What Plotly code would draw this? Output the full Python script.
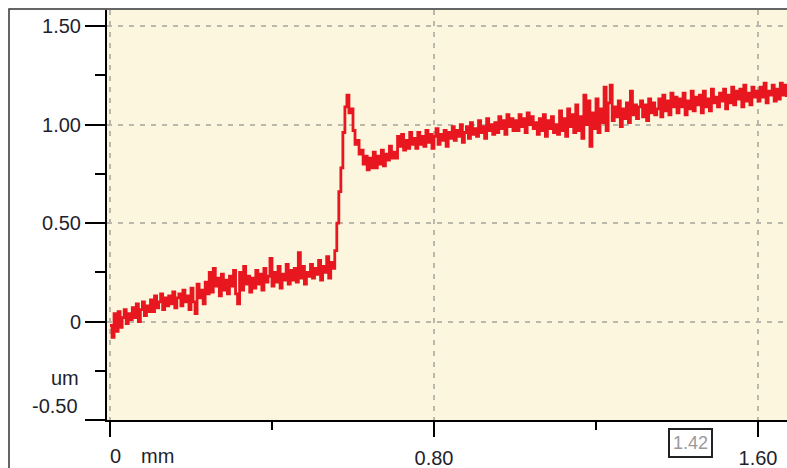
import plotly.graph_objects as go

# ---- data ----
x_start_mm = 0.0
x_step_mm = 0.005
height_um = [
    -0.02, -0.08, 0.04, -0.05, 0.05, -0.03, 0.02, 0.06, -0.01, 0.04,
    0.01, 0.07, 0.02, 0.09, 0.00, 0.06, 0.10, 0.03, 0.08, 0.05,
    0.11, 0.05, 0.13, 0.07, 0.10, 0.14, 0.06, 0.12, 0.08, 0.13,
    0.09, 0.15, 0.07, 0.12, 0.14, 0.08, 0.16, 0.10, 0.13, 0.06,
    0.17, 0.10, 0.04, 0.19, 0.12, 0.16, 0.09, 0.20, 0.14, 0.25,
    0.15, 0.27, 0.18, 0.22, 0.13, 0.24, 0.16, 0.21, 0.14, 0.23,
    0.18, 0.26, 0.14, 0.09, 0.25, 0.16, 0.28, 0.19, 0.23, 0.15,
    0.22, 0.17, 0.26, 0.19, 0.24, 0.16, 0.27, 0.20, 0.23, 0.32,
    0.18, 0.25, 0.20, 0.28, 0.17, 0.24, 0.21, 0.29, 0.19, 0.26,
    0.21, 0.27, 0.20, 0.35, 0.22, 0.28, 0.19, 0.25, 0.23, 0.29,
    0.22, 0.27, 0.24, 0.31, 0.21, 0.28, 0.25, 0.33, 0.22, 0.30,
    0.27, 0.36, 0.50, 0.66, 0.78, 0.96, 1.09, 1.15, 1.06, 1.08,
    0.97, 0.90, 0.92, 0.85, 0.87, 0.80, 0.84, 0.77, 0.83, 0.78,
    0.86, 0.78, 0.84, 0.80, 0.87, 0.79, 0.85, 0.82, 0.89, 0.83,
    0.86, 0.83, 0.94, 0.89, 0.95, 0.87, 0.92, 0.88, 0.96, 0.90,
    0.93, 0.88, 0.96, 0.90, 0.94, 0.89, 0.97, 0.91, 0.95, 0.88,
    0.94, 0.98, 0.90, 0.95, 0.92, 0.97, 0.89, 0.96, 0.93, 0.99,
    0.92, 0.97, 0.94, 1.00, 0.91, 0.96, 0.99, 0.93, 1.01, 0.95,
    0.98, 0.94, 1.02, 0.96, 0.99, 0.93, 1.03, 0.97, 1.00, 0.95,
    1.01, 0.96, 1.04, 0.98, 1.02, 0.95, 1.05, 0.99, 1.03, 0.97,
    1.02, 0.97, 1.05, 0.99, 1.03, 0.96, 1.06, 1.00, 1.04, 0.98,
    1.01, 0.95, 1.03, 0.97, 1.05, 0.94, 1.02, 0.98, 1.04, 0.96,
    1.00, 0.95, 1.07, 0.97, 1.03, 0.94, 1.08, 0.99, 1.05, 0.96,
    1.10, 0.97, 1.04, 0.93, 1.15, 1.00, 1.12, 0.89, 1.06, 0.98,
    1.13, 0.96, 1.08, 1.01, 1.19, 0.97, 1.11, 1.20, 1.02, 1.09,
    1.04, 1.12, 0.99, 1.08, 1.03, 1.11, 1.01, 1.17, 1.05, 1.10,
    1.03, 1.09, 1.12, 1.04, 1.10, 1.02, 1.13, 1.06, 1.11, 1.05,
    1.08, 1.13, 1.04, 1.15, 1.07, 1.12, 1.05, 1.16, 1.09, 1.14,
    1.06, 1.13, 1.09, 1.16, 1.05, 1.12, 1.08, 1.17, 1.07, 1.14,
    1.10, 1.15, 1.06, 1.17, 1.09, 1.13, 1.07, 1.18, 1.11, 1.14,
    1.09, 1.16, 1.12, 1.18, 1.08, 1.15, 1.11, 1.19, 1.10, 1.17,
    1.13, 1.18, 1.09, 1.20, 1.12, 1.16, 1.10, 1.19, 1.14, 1.17,
    1.12, 1.19, 1.14, 1.21, 1.11, 1.17, 1.15, 1.20, 1.12, 1.18,
    1.13, 1.21, 1.15, 1.20, 1.14,
]
position_mm = [round(x_start_mm + i * x_step_mm, 4) for i in range(len(height_um))]

x_tick_vals = [0, 0.8, 1.6]
x_tick_text = ["", "0.80", "1.60"]
x_minor_vals = [0.4, 1.2]
y_tick_vals = [-0.5, 0, 0.5, 1.0, 1.5]
y_tick_text = ["", "0", "0.50", "1.00", "1.50"]
y_minor_vals = [-0.25, 0.25, 0.75, 1.25]
cursor_label = "1.42"

# ---- figure ----
FONT = "Liberation Sans"
TXT = "#1f1f2e"
GRID = "#b9b8ab"
FS = 20

fig = go.Figure()
fig.add_trace(go.Scatter(
    x=position_mm, y=height_um, mode="lines",
    line=dict(color="#e8161f", width=2.8, shape="hv"),
    showlegend=False, hoverinfo="skip",
))

fig.update_layout(
    width=787, height=468,
    margin=dict(l=107, r=0, t=10, b=48, autoexpand=False),
    paper_bgcolor="white",
    plot_bgcolor="#fcf6df",
    font=dict(family=FONT, size=FS, color=TXT),
    showlegend=False,
)

fig.update_xaxes(
    range=[-0.0074, 1.6716], automargin=False,
    tickmode="array", tickvals=x_tick_vals, ticktext=x_tick_text,
    ticks="outside", ticklen=15, tickwidth=2, tickcolor="black",
    showline=True, linecolor="black", linewidth=2,
    showgrid=True, gridcolor=GRID, gridwidth=1.5, griddash="5px,6px",
    zeroline=False,
    minor=dict(tickmode="array", tickvals=x_minor_vals, ticks="outside",
               ticklen=8, tickwidth=2, tickcolor="black", showgrid=False),
    ticklabelstandoff=4,
    tickfont=dict(family=FONT, size=FS, color=TXT),
)
fig.update_yaxes(
    range=[-0.5, 1.582], automargin=False,
    tickmode="array", tickvals=y_tick_vals, ticktext=y_tick_text,
    ticks="outside", ticklen=20, tickwidth=2, tickcolor="black",
    showline=True, linecolor="black", linewidth=2,
    showgrid=True, gridcolor=GRID, gridwidth=1.5, griddash="5px,6px",
    zeroline=False,
    minor=dict(tickmode="array", tickvals=y_minor_vals, ticks="outside",
               ticklen=10, tickwidth=2, tickcolor="black", showgrid=False),
    tickfont=dict(family=FONT, size=FS, color=TXT),
)

def px2paper(px, py):
    return (px - 107) / 680.0, (420 - py) / 410.0

annots = []
ax, ay = px2paper(80, 406)
annots.append(dict(text="-0.50", x=ax, y=ay, xanchor="right", yanchor="middle"))
ax, ay = px2paper(65, 378)
annots.append(dict(text="um", x=ax, y=ay, xanchor="center", yanchor="middle"))
ax, ay = px2paper(115, 456)
annots.append(dict(text="0", x=ax, y=ay, xanchor="center", yanchor="middle"))
ax, ay = px2paper(157, 456)
annots.append(dict(text="mm", x=ax, y=ay, xanchor="center", yanchor="middle"))
for a in annots:
    a.update(xref="paper", yref="paper", showarrow=False,
             font=dict(family=FONT, size=FS, color=TXT))
    fig.add_annotation(**a)

ax, ay = px2paper(690, 443)
fig.add_annotation(text=cursor_label, x=ax, y=ay, xref="paper", yref="paper",
                   xanchor="center", yanchor="middle", showarrow=False,
                   font=dict(family=FONT, size=18, color="#9a9a9a"),
                   bgcolor="white", bordercolor="#222222", borderwidth=2, borderpad=3)

# outer frame
fx0, fy1 = px2paper(9, 9)
fig.add_shape(type="rect", xref="paper", yref="paper",
              x0=fx0, x1=1.2, y0=-0.5, y1=fy1,
              line=dict(color="#333333", width=1.5), fillcolor="rgba(0,0,0,0)",
              layer="above")

fig.write_html(
    "out.html",
    config={"displayModeBar": False},
    post_script="document.body.style.margin='0';document.body.style.overflow='hidden';",
)
